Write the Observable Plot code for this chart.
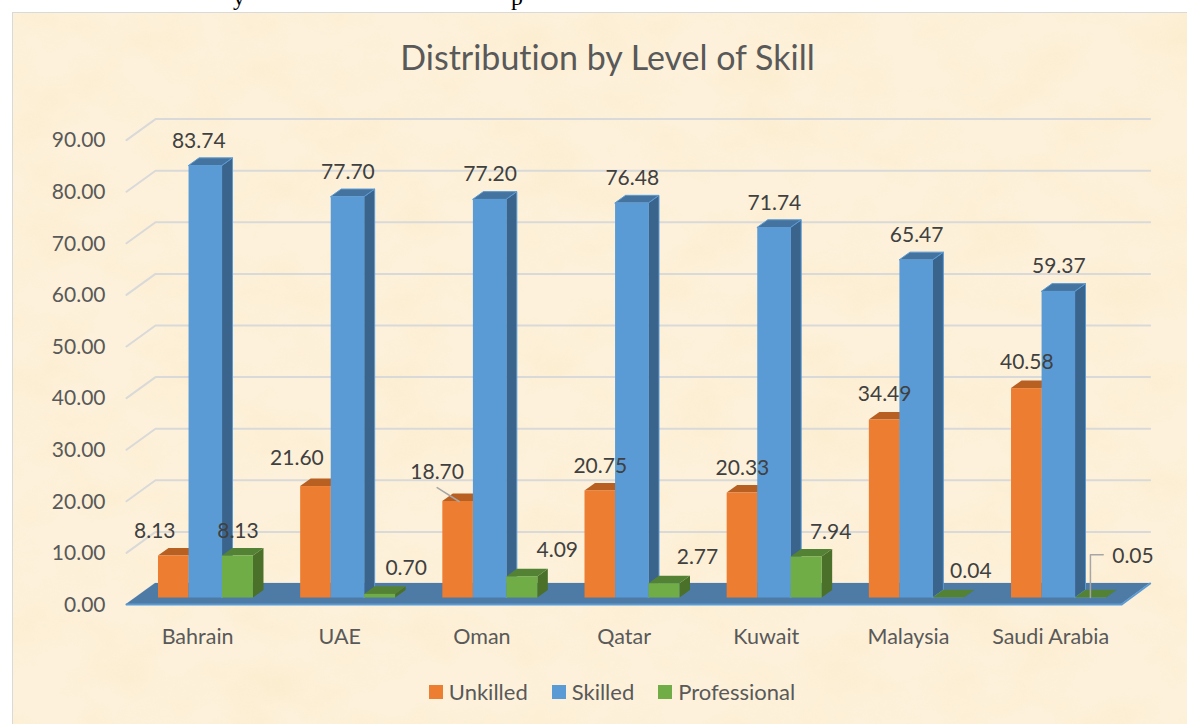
<!DOCTYPE html>
<html><head><meta charset="utf-8">
<script src="https://cdn.jsdelivr.net/npm/d3@7"></script>
<script src="https://cdn.jsdelivr.net/npm/@observablehq/plot@0.6"></script>
<style>
html,body{margin:0;padding:0;background:#fff;width:1187px;height:724px;overflow:hidden;font-family:Lato,sans-serif;font-variant-ligatures:none}
#card{position:absolute;left:12px;top:12px;width:1200px;height:740px;border:1.5px solid #d9d9d9;background:#fdf1db;overflow:hidden}
#texture{position:absolute;left:0;top:0}
#title{position:absolute;left:0;width:1215px;top:33px;text-align:center;font-size:34px;color:#595959;line-height:48px;}
#chart{position:absolute;left:0;top:90px}
#chart svg{background:transparent;display:block;font-variant-ligatures:none}
#legend{position:absolute;left:0;top:675px;width:1224px;display:flex;justify-content:center;gap:24px;font-size:22px;color:#595959;line-height:34px}
#legend span.i{display:flex;align-items:center;gap:6px}
#legend i{display:block;width:14px;height:14px}
#clip{position:absolute;left:0;top:0;width:1187px;height:11px;overflow:hidden;font-family:"Liberation Serif",serif;font-size:24px;color:#000}
#clip span{position:absolute;top:-16px}
</style></head><body>
<div id="clip"><span style="left:233px">y</span><span style="left:511px">p</span></div>
<div id="card">
<svg id="texture" width="1200" height="740"><filter id="paper" x="0" y="0" width="100%" height="100%"><feTurbulence type="fractalNoise" baseFrequency="0.014 0.02" numOctaves="4" seed="7"/><feColorMatrix type="matrix" values="0 0 0 0 0.95  0 0 0 0 0.80  0 0 0 0 0.50  1.5 0 0 0 -0.62"/></filter><rect width="1200" height="740" filter="url(#paper)" opacity="0.5"/></svg>
</div>
<div id="title">Distribution by Level of Skill</div>
<div id="chart"></div>
<div id="legend"></div>
<script>
const categories = ["Bahrain","UAE","Oman","Qatar","Kuwait","Malaysia","Saudi Arabia"];
const unkilled = [8.13,21.60,18.70,20.75,20.33,34.49,40.58];
const skilled = [83.74,77.70,77.20,76.48,71.74,65.47,59.37];
const professional = [8.13,0.70,4.09,2.77,7.94,0.04,0.05];
const seriesNames = ["Unkilled","Skilled","Professional"];
const seriesColors = ["#ED7D31","#5B9BD5","#70AD47"];
const sideColors = ["#B15D24","#3A648C","#4A7029"];
const topColors = ["#B85F22","#44739F","#548235"];
const yTicks = [0,10,20,30,40,50,60,70,80,90];
// pixel nudges of each data label from the bar's top-centre
const unkilledNudge = [[-19,-25],[-19,-28],[-21,-29],[0,-25],[0,-25],[0,-26],[0,-26]];
const skilledNudge = [[-7,-25],[0,-25],[0,-25],[0,-25],[0,-25],[0,-25],[0,-25]];
const professionalNudge = [[0,-25],[26,-26],[35,-27],[33,-26],[24,-25],[22,-27],[0,0]];

const barSpans = [[0.225,0.44],[0.44,0.675],[0.675,0.893]];
const depthX = 0.074, depthY = 1.46;
const floorX = 0.204, floorBack = 2.81, floorFront = -1.26, gridEnd = 7.2;

const gridRows = yTicks.flatMap(v => [
  {v, x:0, y:v+floorFront}, {v, x:floorX, y:v+floorBack}, {v, x:gridEnd, y:v+floorBack}
]);
const allValues = [unkilled, skilled, professional];
const allNudges = [unkilledNudge, skilledNudge, professionalNudge];
const marks = [];
marks.push(Plot.line(gridRows,{x:"x",y:"y",z:"v",stroke:"#d9d9d9",strokeWidth:2}));
// floor
marks.push(Plot.area([
  {x1:0,y1:floorFront,x2:categories.length,y2:floorFront},
  {x1:floorX,y1:floorBack,x2:gridEnd,y2:floorBack}
],{x1:"x1",y1:"y1",x2:"x2",y2:"y2",fill:"#4E7BA6"}));
marks.push(Plot.line([{x:0,y:floorFront},{x:categories.length,y:floorFront},{x:gridEnd,y:floorBack}],{x:"x",y:"y",stroke:"#5B9BD5",strokeWidth:2}));

allValues.forEach((values,s)=>{
  const [a,b] = barSpans[s];
  const sides = values.flatMap((v,i)=>[
    {i,x:i+b,y1:0,y2:v},{i,x:i+b+depthX,y1:depthY,y2:v+depthY}
  ]);
  const tops = values.flatMap((v,i)=>[
    {i,x1:i+a,x2:i+b,y:v},{i,x1:i+a+depthX,x2:i+b+depthX,y:v+depthY}
  ]);
  marks.push(Plot.area(sides,{x1:"x",y1:"y1",y2:"y2",z:"i",fill:sideColors[s],stroke:s===1?"#5B9BD5":"none",strokeWidth:1}));
  marks.push(Plot.area(tops,{x1:"x1",x2:"x2",y1:"y",y2:"y",z:"i",fill:topColors[s],stroke:s===1?"#5B9BD5":"none",strokeWidth:1}));
  marks.push(Plot.rect(values,{x1:(d,i)=>i+a,x2:(d,i)=>i+b,y1:0,y2:d=>d,fill:seriesColors[s]}));
});

// leader lines
const oman = 2, saudi = 6;
marks.push(Plot.line([
  {x:oman+0.185,y:unkilled[oman]+2.7},{x:oman+0.34,y:unkilled[oman]}
],{x:"x",y:"y",stroke:"#a6a6a6",strokeWidth:1.5}));
marks.push(Plot.line([
  {x:saudi+0.78,y:0.1},{x:saudi+0.78,y:8.4},{x:saudi+0.87,y:8.4}
],{x:"x",y:"y",stroke:"#a6a6a6",strokeWidth:1.5}));

// data labels
allValues.forEach((values,s)=>{
  const [a,b] = barSpans[s];
  values.forEach((v,i)=>{
    const [dx,dy] = allNudges[s][i];
    if (s===2 && i===saudi) {
      marks.push(Plot.text([v],{x:()=>i+0.87,y:()=>8.4,dx:9,dy:2,text:d=>d.toFixed(2),textAnchor:"start",fill:"#404040",fontSize:21}));
    } else {
      marks.push(Plot.text([v],{x:()=>i+(a+b)/2,y:d=>d,dx,dy,text:d=>d.toFixed(2),fill:"#404040",fontSize:21}));
    }
  });
});

marks.push(Plot.axisY({ticks:yTicks,tickSize:0,tickPadding:21,dy:7,tickFormat:d=>d.toFixed(2),fontSize:21,color:"#595959",label:null}));
marks.push(Plot.axisX({ticks:categories.map((c,i)=>i+0.5),tickFormat:d=>categories[Math.floor(d)],tickSize:0,tickPadding:31,fontSize:21.5,color:"#595959",label:null}));

const plot = Plot.plot({
  width:1187,height:580,marginLeft:126,marginRight:1187-126-995.2,marginTop:43.1,marginBottom:72.5,
  style:{background:"transparent",fontFamily:"Lato,sans-serif",overflow:"visible"},
  x:{domain:[0,categories.length],axis:null},
  y:{domain:[0,90],axis:null},
  marks
});
document.getElementById("chart").appendChild(plot);
document.getElementById("legend").innerHTML = seriesNames.map((n,i)=>`<span class="i"><i style="background:${seriesColors[i]}"></i>${n}</span>`).join("");
</script>
</body></html>
